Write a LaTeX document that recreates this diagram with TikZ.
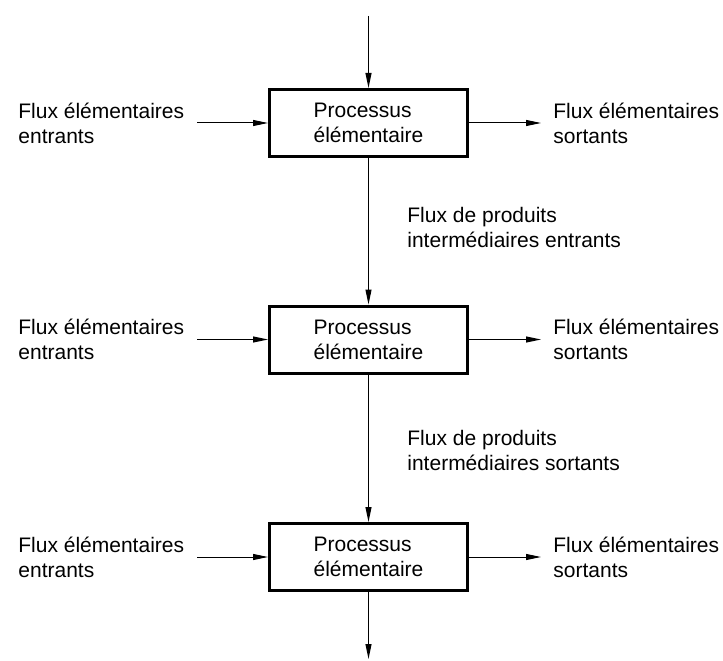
\documentclass[tikz,border=0pt]{standalone}
\usepackage{fontspec}
\setmainfont{Liberation Sans}
\usetikzlibrary{arrows.meta}
\tikzset{
  procbox/.style={draw,line width=1.5pt,minimum width=99pt,minimum height=33.5pt,align=left},
  flowlbl/.style={anchor=west,inner sep=0pt,align=left},
  flow/.style={line width=0.5pt,-{Triangle[length=7.5pt,width=3pt]}},
}
\begin{document}
\begin{tikzpicture}[x=0.5pt,y=0.5pt,font=\fontsize{10.5}{12.5}\selectfont]
      \useasboundingbox (0,0) rectangle (723,660);
      % the three process boxes
      \node[procbox] (p1) at (368.5,537) {Processus\\élémentaire};
      \node[procbox] (p2) at (368.5,320.5) {Processus\\élémentaire};
      \node[procbox] (p3) at (368.5,103) {Processus\\élémentaire};
      \coordinate (top) at (368.5,644);
      \coordinate (bot) at (368.5,1);
      \coordinate (in1) at (197,537);
      \coordinate (in2) at (197,320.5);
      \coordinate (in3) at (197,103);
      \coordinate (out1) at (541,537);
      \coordinate (out2) at (541,320.5);
      \coordinate (out3) at (541,103);
      % labels
      \node[flowlbl] (l1) at (18,537) {Flux élémentaires\\entrants};
      \node[flowlbl] (l2) at (18,320.5) {Flux élémentaires\\entrants};
      \node[flowlbl] (l3) at (18,103) {Flux élémentaires\\entrants};
      \node[flowlbl] (r1) at (553,537) {Flux élémentaires\\sortants};
      \node[flowlbl] (r2) at (553,320.5) {Flux élémentaires\\sortants};
      \node[flowlbl] (r3) at (553,103) {Flux élémentaires\\sortants};
      \node[flowlbl] (m1) at (407,433) {Flux de produits\\intermédiaires entrants};
      \node[flowlbl] (m2) at (407,210) {Flux de produits\\intermédiaires sortants};
      % connectors
      \draw[flow] (top) -- (p1.north);
      \draw[flow] (p1.south) -- (p2.north);
      \draw[flow] (p2.south) -- (p3.north);
      \draw[flow] (p3.south) -- (bot);
      \draw[flow] (in1) -- (p1.west);
      \draw[flow] (in2) -- (p2.west);
      \draw[flow] (in3) -- (p3.west);
      \draw[flow] (p1.east) -- (out1);
      \draw[flow] (p2.east) -- (out2);
      \draw[flow] (p3.east) -- (out3);
    \end{tikzpicture}
\end{document}
